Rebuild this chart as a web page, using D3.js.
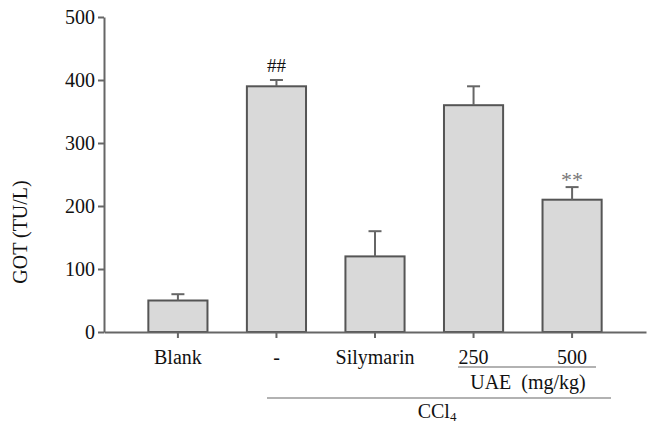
<!DOCTYPE html>
<html><head><meta charset="utf-8">
<script src="https://cdn.jsdelivr.net/npm/d3@7"></script>
<style>body{margin:0;background:#fff}</style>
</head><body><svg id="c" width="648" height="424"></svg>
<script>
const categories = ["Blank", "-", "Silymarin", "250", "500"];
const means = [50, 390, 120, 360, 210];
const errors = [10, 10, 40, 30, 20];
const marks = ["", "##", "", "", "**"];
const yTicks = [0, 100, 200, 300, 400, 500];
const yLabel = "GOT (TU/L)";

const FONT = "'Liberation Serif', 'Times New Roman', Times, 'DejaVu Serif', serif";
const svg = d3.select("#c");
const x = d3.scaleBand().domain(categories).range([104, 646]).paddingInner(0.40).paddingOuter(0.45);
const y = d3.scaleLinear().domain([0, 500]).range([332, 17]);
const axisCol = "#666";

svg.selectAll("rect.bar").data(categories).join("rect")
  .attr("x", d => x(d)).attr("width", x.bandwidth())
  .attr("y", (d, i) => y(means[i])).attr("height", (d, i) => y(0) - y(means[i]))
  .attr("fill", "#d9d9d9").attr("stroke", "#555").attr("stroke-width", 2);

const cx = d => x(d) + x.bandwidth() / 2;
svg.selectAll("line.err").data(categories).join("line")
  .attr("x1", cx).attr("x2", cx)
  .attr("y1", (d, i) => y(means[i])).attr("y2", (d, i) => y(means[i] + errors[i]))
  .attr("stroke", axisCol).attr("stroke-width", 2);
svg.selectAll("line.cap").data(categories).join("line")
  .attr("x1", d => cx(d) - 6.5).attr("x2", d => cx(d) + 6.5)
  .attr("y1", (d, i) => y(means[i] + errors[i])).attr("y2", (d, i) => y(means[i] + errors[i]))
  .attr("stroke", axisCol).attr("stroke-width", 2);

svg.selectAll("text.mark").data(categories).join("text")
  .attr("x", cx).attr("y", (d, i) => y(means[i] + errors[i]) - (marks[i] === "**" ? 0 : 8))
  .attr("text-anchor", "middle")
  .style("font-family", FONT)
  .style("font-size", (d, i) => marks[i] === "**" ? "22px" : "19px")
  .style("fill", (d, i) => marks[i] === "**" ? "#777" : "#111")
  .text((d, i) => marks[i]);

const ya = svg.append("g").attr("transform", "translate(104,0)")
  .call(d3.axisLeft(y).tickValues(yTicks).tickSize(6).tickPadding(3).tickSizeOuter(0));
ya.select(".domain").attr("stroke", axisCol).attr("stroke-width", 2);
ya.selectAll(".tick line").attr("stroke", axisCol).attr("stroke-width", 2);
ya.selectAll(".tick text").style("font-size", "20px").style("font-family", FONT).style("fill", "#111");

const xa = svg.append("g").attr("transform", "translate(0,332)")
  .call(d3.axisBottom(x).tickSize(6).tickPadding(12).tickSizeOuter(0));
xa.select(".domain").attr("stroke", axisCol).attr("stroke-width", 2);
xa.selectAll(".tick line").attr("stroke", axisCol).attr("stroke-width", 2);
xa.selectAll(".tick text").style("font-size", "20px").style("font-family", FONT).style("fill", "#111");

svg.append("text").attr("transform", "translate(27,232) rotate(-90)")
  .attr("text-anchor", "middle").style("font-size", "20px").style("font-family", FONT).style("fill", "#111").text(yLabel);

const lineCol = "#999";
svg.append("line").attr("x1", 458).attr("x2", 596).attr("y1", 367).attr("y2", 367)
  .attr("stroke", lineCol).attr("stroke-width", 1.5);
svg.append("text").attr("x", 528).attr("y", 389).attr("text-anchor", "middle")
  .style("font-size", "20px").style("font-family", FONT).style("fill", "#111")
  .style("white-space", "pre").text("UAE  (mg/kg)");

svg.append("line").attr("x1", 267).attr("x2", 611).attr("y1", 398).attr("y2", 398)
  .attr("stroke", lineCol).attr("stroke-width", 1.5);
const t = svg.append("text").attr("x", 437).attr("y", 418).attr("text-anchor", "middle")
  .style("font-size", "20px").style("font-family", FONT).style("fill", "#111");
t.append("tspan").text("CCl");
t.append("tspan").style("font-size", "13px").attr("dy", 3).text("4");
</script></body></html>
